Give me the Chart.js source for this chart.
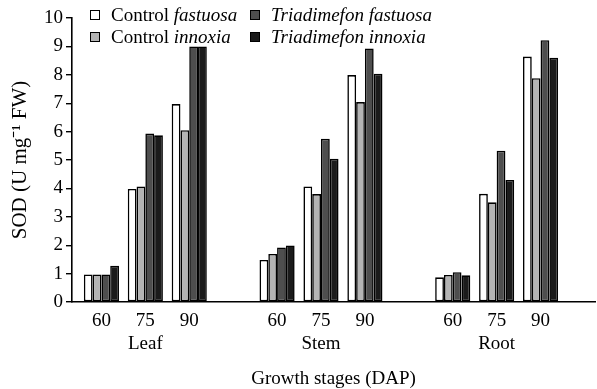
<!DOCTYPE html>
<html>
<head>
<meta charset="utf-8">
<title>SOD activity</title>
<script src="https://cdn.jsdelivr.net/npm/chart.js"></script>
<style>
    body { margin: 0; background: #fff; }
    #wrap { position: relative; width: 597px; height: 389px; }
    #legend {
        position: absolute; left: 90px; top: 4px;
        display: grid; grid-template-columns: 160px auto; row-gap: 0;
        font-family: "Liberation Serif", "Times New Roman", serif; font-size: 19px; color: #000;
    }
    .item { display: flex; align-items: center; height: 22px; white-space: pre; }
    .box { width: 8px; height: 8px; border: 1px solid #000; margin-right: 11px; }
</style>
</head>
<body>
<div id="wrap">
    <canvas id="sodChart" width="597" height="389"></canvas>
    <div id="legend"></div>
</div>
<script>
// Data (SOD, U mg-1 FW)
var stages = ['60', '75', '90', '60', '75', '90', '60', '75', '90'];
var organs = ['Leaf', 'Stem', 'Root'];
var positions = [0, 1, 2, 4, 5, 6, 8, 9, 10]; // a blank slot between organs

var controlFastuosa = [0.97, 3.98, 6.97, 1.48, 4.07, 7.99, 0.87, 3.81, 8.64];
var controlInnoxia = [0.97, 4.07, 6.05, 1.69, 3.80, 7.04, 0.95, 3.51, 7.88];
var triadimefonFastuosa = [0.97, 5.93, 9.00, 1.92, 5.75, 8.93, 1.05, 5.33, 9.22];
var triadimefonInnoxia = [1.28, 5.87, 9.00, 1.99, 5.04, 8.04, 0.94, 4.30, 8.60];

var seriesNames = ['Control fastuosa', 'Control innoxia', 'Triadimefon fastuosa', 'Triadimefon innoxia'];
var seriesColors = ['#ffffff', '#b4b4b4', '#4e4e4e', '#1b1b1b'];

var yTicks = [0, 1, 2, 3, 4, 5, 6, 7, 8, 9, 10];

var font = "'Liberation Serif', 'Times New Roman', serif";

var allSeries = [controlFastuosa, controlInnoxia, triadimefonFastuosa, triadimefonInnoxia];
var datasets = allSeries.map(function (values, i) {
    return {
        label: seriesNames[i],
        data: values,
        backgroundColor: seriesColors[i],
        borderColor: '#000',
        borderWidth: 1.6,
        borderSkipped: false,
        categoryPercentage: 0.8,
        barPercentage: 1.0
    };
});

var ctx = document.getElementById('sodChart').getContext('2d');
var sodChart = new Chart(ctx, {
    type: 'bar',
    data: { labels: positions, datasets: datasets },
    options: {
        responsive: false,
        devicePixelRatio: 1,
        animation: false,
        layout: { padding: { top: 18, right: 2, bottom: 0, left: 0 } },
        plugins: {
            legend: { display: false },
            tooltip: { enabled: false }
        },
        scales: {
            x: {
                type: 'linear',
                offset: false,
                min: -0.67,
                max: 11.24,
                grid: { display: false, drawTicks: false, offset: false },
                border: { display: true, color: '#000', width: 1.6 },
                afterBuildTicks: function (axis) {
                    axis.ticks = positions.map(function (v) { return { value: v }; });
                },
                afterFit: function (axis) { axis.height = 87; },
                ticks: {
                    autoSkip: false,
                    maxRotation: 0,
                    padding: 7,
                    color: '#000',
                    font: { family: font, size: 19, lineHeight: 1.22 },
                    callback: function (value, index) {
                        // organ name goes under the middle stage of each group
                        if (index % 3 === 1) {
                            return [stages[index], organs[Math.floor(index / 3)]];
                        }
                        return stages[index];
                    }
                },
                title: {
                    display: true,
                    text: 'Growth stages (DAP)',
                    color: '#000',
                    padding: { top: 0, bottom: 0 },
                    font: { family: font, size: 19, lineHeight: 1.0 }
                }
            },
            y: {
                min: 0,
                max: 10,
                afterBuildTicks: function (axis) {
                    axis.ticks = yTicks.map(function (v) { return { value: v }; });
                },
                afterFit: function (axis) { axis.width = 72; },
                grid: { drawOnChartArea: false, drawTicks: true, tickLength: 6, color: '#000', lineWidth: 1.4 },
                border: { display: true, color: '#000', width: 1.6 },
                ticks: {
                    padding: 3,
                    color: '#000',
                    font: { family: font, size: 19 }
                },
                title: {
                    display: true,
                    text: 'SOD (U mg\u207B\u00B9 FW)',
                    color: '#000',
                    padding: { top: 9, bottom: 0 },
                    font: { family: font, size: 21, lineHeight: 1.1 }
                }
            }
        }
    }
});

// HTML legend so part of each label can be italic
var legendParts = [['Control\u00a0', 'fastuosa'], ['Triadimefon fastuosa', ''], ['Control\u00a0', 'innoxia'], ['Triadimefon innoxia', '']];
var legendOrder = [0, 2, 1, 3];
var legendEl = document.getElementById('legend');
legendOrder.forEach(function (i, k) {
    var parts = legendParts[k];
    var html = i >= 2 ? '<i>' + parts[0] + '</i>' : parts[0] + '<i>' + parts[1] + '</i>';
    var item = document.createElement('div');
    item.className = 'item';
    item.innerHTML = '<span class="box" style="background:' + sodChart.data.datasets[i].backgroundColor + '"></span>' + html;
    legendEl.appendChild(item);
});
</script>
</body>
</html>
